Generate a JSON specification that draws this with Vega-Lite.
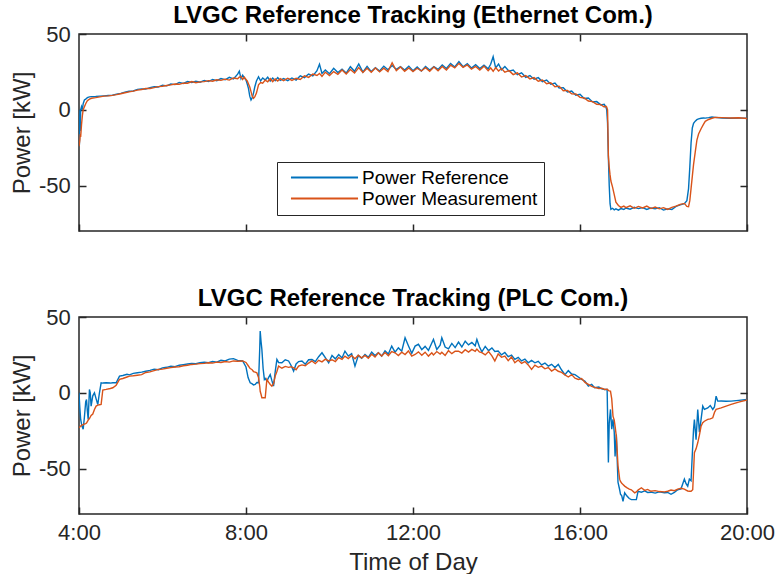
{
  "$schema": "https://vega.github.io/schema/vega-lite/v6.json",
  "background": "white",
  "padding": {"left": 9, "top": 3, "right": 0, "bottom": 0},
  "config": {
    "font": "Liberation Sans",
    "view": {"stroke": "#262626", "strokeWidth": 1.5},
    "axis": {"domain": false, "grid": false, "tickColor": "#262626", "tickWidth": 1.5, "tickSize": -7, "labelFont": "Liberation Sans", "labelFontSize": 22, "labelColor": "#262626", "titleFont": "Liberation Sans", "titleFontSize": 24, "titleFontWeight": "normal", "titleColor": "#262626", "labelFlush": false, "labelOverlap": false},
    "title": {"font": "Liberation Sans", "fontSize": 24, "fontWeight": "bold", "color": "#000000", "anchor": "middle", "offset": -5},
    "concat": {"spacing": 53}
  },
  "datasets": {
    "eth": [
      {"t":4.00,"ref":0,"meas":-24},{"t":4.01,"ref":-23,"meas":-22},{"t":4.02,"ref":-8,"meas":-20},{"t":4.03,"ref":-14,"meas":-16},{"t":4.04,"ref":0,"meas":-18},{"t":4.06,"ref":2,"meas":-10},{"t":4.08,"ref":0,"meas":-4},{"t":4.10,"ref":4,"meas":0},{"t":4.13,"ref":6.5,"meas":2},{"t":4.16,"ref":7,"meas":4},{"t":4.20,"ref":8,"meas":6},{"t":4.25,"ref":8.5,"meas":7},{"t":4.30,"ref":8.7,"meas":7.6},{"t":4.40,"ref":8.8,"meas":8},{"t":4.50,"ref":9,"meas":8.5},{"t":4.60,"ref":9.2,"meas":9},{"t":4.70,"ref":9.4,"meas":9.2},{"t":4.80,"ref":9.6,"meas":9.5},{"t":4.90,"ref":10.3,"meas":10},{"t":5.00,"ref":10.8,"meas":10.6},{"t":5.10,"ref":11.6,"meas":11.2},{"t":5.20,"ref":12.2,"meas":11.8},{"t":5.30,"ref":12.4,"meas":12.3},{"t":5.40,"ref":13.5,"meas":13},{"t":5.50,"ref":13.8,"meas":13.4},{"t":5.60,"ref":13.6,"meas":14},{"t":5.70,"ref":14.6,"meas":14},{"t":5.80,"ref":15.2,"meas":14.6},{"t":5.90,"ref":15,"meas":15.3},{"t":6.00,"ref":16.2,"meas":15.5},{"t":6.10,"ref":15.8,"meas":16},{"t":6.20,"ref":17,"meas":16.4},{"t":6.30,"ref":16.6,"meas":17},{"t":6.40,"ref":18,"meas":16.8},{"t":6.50,"ref":17.4,"meas":17.6},{"t":6.60,"ref":18.6,"meas":17.5},{"t":6.70,"ref":18,"meas":18.6},{"t":6.80,"ref":18.8,"meas":17.8},{"t":6.90,"ref":18.2,"meas":18.4},{"t":7.00,"ref":19.4,"meas":18.6},{"t":7.10,"ref":18.6,"meas":19.2},{"t":7.20,"ref":20,"meas":18.8},{"t":7.30,"ref":19.2,"meas":19.8},{"t":7.40,"ref":20.6,"meas":19.4},{"t":7.50,"ref":19.8,"meas":20.2},{"t":7.60,"ref":21.4,"meas":19.6},{"t":7.70,"ref":20.4,"meas":21},{"t":7.80,"ref":23.5,"meas":20.5},{"t":7.84,"ref":25.5,"meas":21.5},{"t":7.88,"ref":20.5,"meas":22},{"t":7.92,"ref":22.8,"meas":20},{"t":7.96,"ref":21,"meas":21.5},{"t":8.00,"ref":19.6,"meas":20},{"t":8.03,"ref":17,"meas":19},{"t":8.06,"ref":14,"meas":17},{"t":8.09,"ref":9,"meas":15},{"t":8.12,"ref":6.5,"meas":12},{"t":8.15,"ref":8,"meas":9},{"t":8.18,"ref":11,"meas":7.6},{"t":8.21,"ref":15,"meas":8.5},{"t":8.25,"ref":19,"meas":11},{"t":8.30,"ref":21.8,"meas":16.4},{"t":8.35,"ref":19,"meas":18},{"t":8.40,"ref":21,"meas":17.5},{"t":8.46,"ref":19.6,"meas":19.6},{"t":8.52,"ref":21.5,"meas":18.5},{"t":8.58,"ref":19,"meas":20.5},{"t":8.64,"ref":21,"meas":18.6},{"t":8.70,"ref":19.2,"meas":20.4},{"t":8.76,"ref":21.2,"meas":19},{"t":8.82,"ref":19.4,"meas":20.6},{"t":8.90,"ref":20.6,"meas":19.2},{"t":9.00,"ref":19.2,"meas":20.8},{"t":9.10,"ref":21,"meas":19.4},{"t":9.20,"ref":19.6,"meas":20.8},{"t":9.30,"ref":22.4,"meas":20},{"t":9.40,"ref":21.2,"meas":22.4},{"t":9.50,"ref":23.6,"meas":21.4},{"t":9.60,"ref":22.4,"meas":23.6},{"t":9.70,"ref":25.8,"meas":22.6},{"t":9.76,"ref":30,"meas":24},{"t":9.82,"ref":24,"meas":22},{"t":9.90,"ref":26.2,"meas":24.8},{"t":10.00,"ref":23.8,"meas":22.6},{"t":10.10,"ref":27.4,"meas":25.2},{"t":10.20,"ref":24.6,"meas":23.4},{"t":10.30,"ref":26.8,"meas":26.2},{"t":10.40,"ref":24.2,"meas":23.6},{"t":10.50,"ref":28.4,"meas":26.6},{"t":10.60,"ref":25.4,"meas":24.2},{"t":10.70,"ref":30.2,"meas":27.8},{"t":10.80,"ref":24.8,"meas":24.6},{"t":10.90,"ref":28.6,"meas":27.4},{"t":11.00,"ref":25.2,"meas":24.8},{"t":11.10,"ref":27.8,"meas":27.6},{"t":11.20,"ref":25.6,"meas":25},{"t":11.30,"ref":28.8,"meas":27.4},{"t":11.40,"ref":26.4,"meas":25.2},{"t":11.50,"ref":29.2,"meas":31},{"t":11.60,"ref":26.6,"meas":25.8},{"t":11.70,"ref":28.4,"meas":28.2},{"t":11.80,"ref":26.2,"meas":25.4},{"t":11.90,"ref":28.8,"meas":27.6},{"t":12.00,"ref":25.8,"meas":25.2},{"t":12.10,"ref":28.2,"meas":27.4},{"t":12.20,"ref":25.6,"meas":25.6},{"t":12.30,"ref":28.6,"meas":27.8},{"t":12.40,"ref":26.2,"meas":25.4},{"t":12.50,"ref":28.4,"meas":28.2},{"t":12.60,"ref":26.6,"meas":25.8},{"t":12.70,"ref":29.6,"meas":28.6},{"t":12.80,"ref":27.2,"meas":26.2},{"t":12.90,"ref":30.6,"meas":29.4},{"t":13.00,"ref":28.2,"meas":27.6},{"t":13.10,"ref":31.8,"meas":30.6},{"t":13.20,"ref":28.4,"meas":28},{"t":13.30,"ref":30.4,"meas":29.6},{"t":13.40,"ref":27.6,"meas":26.8},{"t":13.50,"ref":29.8,"meas":28.6},{"t":13.60,"ref":27.2,"meas":26.2},{"t":13.70,"ref":29.4,"meas":28.8},{"t":13.80,"ref":27,"meas":25.8},{"t":13.86,"ref":30,"meas":27.6},{"t":13.92,"ref":35,"meas":25.4},{"t":13.98,"ref":27.6,"meas":27.8},{"t":14.05,"ref":30.2,"meas":25.6},{"t":14.12,"ref":26.4,"meas":27.2},{"t":14.20,"ref":28.6,"meas":24.8},{"t":14.30,"ref":25.4,"meas":25.8},{"t":14.40,"ref":26.2,"meas":23.2},{"t":14.50,"ref":23.2,"meas":24.4},{"t":14.60,"ref":24.4,"meas":21.6},{"t":14.70,"ref":21.4,"meas":22.6},{"t":14.80,"ref":22.6,"meas":20.4},{"t":14.90,"ref":20.2,"meas":21.2},{"t":15.00,"ref":21.2,"meas":18.8},{"t":15.10,"ref":18.6,"meas":19.6},{"t":15.20,"ref":19.6,"meas":17.2},{"t":15.30,"ref":16.8,"meas":17.8},{"t":15.40,"ref":17.6,"meas":15.2},{"t":15.50,"ref":14.4,"meas":15.6},{"t":15.60,"ref":14.6,"meas":12.6},{"t":15.70,"ref":11.8,"meas":12.8},{"t":15.80,"ref":12.4,"meas":10.6},{"t":15.90,"ref":9.6,"meas":10.4},{"t":16.00,"ref":10.2,"meas":8.2},{"t":16.10,"ref":7.4,"meas":7.8},{"t":16.20,"ref":7.8,"meas":5.8},{"t":16.30,"ref":5.2,"meas":5.4},{"t":16.40,"ref":5.4,"meas":3.6},{"t":16.50,"ref":3.2,"meas":3.4},{"t":16.58,"ref":3.6,"meas":1.8},{"t":16.62,"ref":1.8,"meas":2.4},{"t":16.64,"ref":0,"meas":1.8},{"t":16.66,"ref":-8.7,"meas":0},{"t":16.68,"ref":-31.7,"meas":-30.6},{"t":16.70,"ref":-50,"meas":-38},{"t":16.72,"ref":-62,"meas":-43},{"t":16.74,"ref":-65.7,"meas":-47},{"t":16.78,"ref":-65,"meas":-51},{"t":16.82,"ref":-66,"meas":-56},{"t":16.86,"ref":-65.4,"meas":-61},{"t":16.92,"ref":-66.2,"meas":-63.2},{"t":16.98,"ref":-65.2,"meas":-64.4},{"t":17.05,"ref":-65.8,"meas":-63.6},{"t":17.10,"ref":-64.8,"meas":-64.6},{"t":17.20,"ref":-65.6,"meas":-63.4},{"t":17.30,"ref":-64.4,"meas":-65},{"t":17.40,"ref":-65.2,"meas":-63.8},{"t":17.50,"ref":-64.6,"meas":-64.8},{"t":17.60,"ref":-65.8,"meas":-63.6},{"t":17.70,"ref":-64.8,"meas":-65.2},{"t":17.80,"ref":-65.4,"meas":-64.2},{"t":17.90,"ref":-64.6,"meas":-65.4},{"t":18.00,"ref":-66.2,"meas":-64.6},{"t":18.10,"ref":-65.4,"meas":-65.8},{"t":18.20,"ref":-65.8,"meas":-64.4},{"t":18.30,"ref":-63.8,"meas":-63.6},{"t":18.40,"ref":-62.8,"meas":-62.4},{"t":18.50,"ref":-62,"meas":-61.8},{"t":18.56,"ref":-60,"meas":-63.8},{"t":18.60,"ref":-52,"meas":-64},{"t":18.63,"ref":-38,"meas":-60},{"t":18.66,"ref":-22,"meas":-52},{"t":18.69,"ref":-12,"meas":-44},{"t":18.72,"ref":-9,"meas":-36},{"t":18.76,"ref":-7.5,"meas":-28},{"t":18.80,"ref":-6.5,"meas":-20},{"t":18.84,"ref":-6,"meas":-16},{"t":18.90,"ref":-5.6,"meas":-12.5},{"t":18.96,"ref":-5.4,"meas":-9.5},{"t":19.00,"ref":-5.5,"meas":-7.6},{"t":19.08,"ref":-5.2,"meas":-6.4},{"t":19.16,"ref":-4.8,"meas":-5.6},{"t":19.24,"ref":-5,"meas":-5},{"t":19.40,"ref":-5.4,"meas":-5.2},{"t":19.60,"ref":-5.6,"meas":-5.4},{"t":19.80,"ref":-5.5,"meas":-5.3},{"t":20.00,"ref":-5.5,"meas":-5.8}
    ],
    "plc": [
      {"t":4.00,"ref":0,"meas":-23},{"t":4.02,"ref":-10,"meas":-22.6},{"t":4.04,"ref":-17.6,"meas":-22},{"t":4.07,"ref":-22,"meas":-21.4},{"t":4.10,"ref":-24,"meas":-21},{"t":4.13,"ref":-16,"meas":-20.6},{"t":4.16,"ref":-6,"meas":-20.4},{"t":4.18,"ref":-4.4,"meas":-20},{"t":4.20,"ref":-12,"meas":-19},{"t":4.22,"ref":-17.6,"meas":-18},{"t":4.25,"ref":2.2,"meas":-17},{"t":4.27,"ref":0,"meas":-16},{"t":4.29,"ref":-8.8,"meas":-15},{"t":4.33,"ref":-2,"meas":-14},{"t":4.37,"ref":0,"meas":-11},{"t":4.41,"ref":-4,"meas":-8.8},{"t":4.45,"ref":-7.7,"meas":-8.2},{"t":4.49,"ref":0,"meas":-7.9},{"t":4.53,"ref":6.6,"meas":-7.7},{"t":4.57,"ref":6.4,"meas":1.8},{"t":4.65,"ref":6.6,"meas":2.2},{"t":4.75,"ref":6.4,"meas":2.8},{"t":4.81,"ref":6.6,"meas":3.3},{"t":4.89,"ref":6.6,"meas":5},{"t":4.97,"ref":11,"meas":8.8},{"t":5.05,"ref":11.4,"meas":9.4},{"t":5.15,"ref":12.2,"meas":10.4},{"t":5.21,"ref":11.8,"meas":11},{"t":5.30,"ref":12.8,"meas":11.2},{"t":5.40,"ref":13.2,"meas":11.6},{"t":5.50,"ref":13.6,"meas":12},{"t":5.60,"ref":14.2,"meas":13.4},{"t":5.70,"ref":14.8,"meas":13.8},{"t":5.80,"ref":15.6,"meas":14.6},{"t":5.90,"ref":15.2,"meas":15.4},{"t":6.00,"ref":16.4,"meas":15.6},{"t":6.10,"ref":16.8,"meas":16.2},{"t":6.20,"ref":17.6,"meas":16.6},{"t":6.30,"ref":17.2,"meas":17},{"t":6.40,"ref":18.2,"meas":17.2},{"t":6.50,"ref":18.6,"meas":17.8},{"t":6.60,"ref":19,"meas":18.2},{"t":6.70,"ref":19.4,"meas":18.7},{"t":6.80,"ref":19.2,"meas":18.9},{"t":6.90,"ref":19.8,"meas":19.2},{"t":7.00,"ref":20.2,"meas":19.4},{"t":7.10,"ref":19.8,"meas":19.8},{"t":7.20,"ref":20.6,"meas":19.6},{"t":7.30,"ref":20.2,"meas":20.2},{"t":7.40,"ref":21.4,"meas":20},{"t":7.50,"ref":21,"meas":20.6},{"t":7.60,"ref":22.2,"meas":20.2},{"t":7.70,"ref":22.5,"meas":21},{"t":7.80,"ref":21.4,"meas":20.8},{"t":7.92,"ref":21,"meas":21},{"t":8.00,"ref":17,"meas":20},{"t":8.05,"ref":10,"meas":18},{"t":8.10,"ref":6.6,"meas":16},{"t":8.14,"ref":6,"meas":15.4},{"t":8.18,"ref":5.2,"meas":14},{"t":8.22,"ref":5.5,"meas":13.6},{"t":8.26,"ref":6.8,"meas":13.2},{"t":8.30,"ref":6.6,"meas":10},{"t":8.33,"ref":30,"meas":4},{"t":8.34,"ref":40.7,"meas":1},{"t":8.36,"ref":34,"meas":-1},{"t":8.38,"ref":28.6,"meas":-3.3},{"t":8.41,"ref":16,"meas":-3.3},{"t":8.44,"ref":8.8,"meas":-3.3},{"t":8.46,"ref":9.5,"meas":-3.3},{"t":8.50,"ref":7.7,"meas":8.8},{"t":8.54,"ref":10,"meas":7},{"t":8.58,"ref":12,"meas":5.5},{"t":8.62,"ref":8,"meas":4.4},{"t":8.66,"ref":4.4,"meas":6},{"t":8.70,"ref":14,"meas":11},{"t":8.74,"ref":22,"meas":14},{"t":8.78,"ref":20,"meas":17.6},{"t":8.86,"ref":19.8,"meas":16.2},{"t":8.94,"ref":21.8,"meas":17.4},{"t":9.02,"ref":21,"meas":16.8},{"t":9.08,"ref":18,"meas":17.2},{"t":9.14,"ref":14.3,"meas":16.5},{"t":9.20,"ref":19,"meas":15.2},{"t":9.26,"ref":20.6,"meas":17.6},{"t":9.34,"ref":21,"meas":18.4},{"t":9.42,"ref":18.8,"meas":17.8},{"t":9.50,"ref":21.8,"meas":19.6},{"t":9.58,"ref":22,"meas":21},{"t":9.66,"ref":20.6,"meas":19.2},{"t":9.74,"ref":23.8,"meas":21.4},{"t":9.82,"ref":26.4,"meas":20.4},{"t":9.90,"ref":23.2,"meas":22.2},{"t":9.98,"ref":19.8,"meas":21},{"t":10.06,"ref":24.6,"meas":21.8},{"t":10.14,"ref":22.4,"meas":20.6},{"t":10.22,"ref":25.2,"meas":23.2},{"t":10.30,"ref":23,"meas":22},{"t":10.37,"ref":27.5,"meas":24.2},{"t":10.45,"ref":24.2,"meas":22.6},{"t":10.53,"ref":25.8,"meas":24.6},{"t":10.61,"ref":17.6,"meas":22.4},{"t":10.69,"ref":24.6,"meas":24.8},{"t":10.77,"ref":22.8,"meas":23},{"t":10.85,"ref":25.3,"meas":24.6},{"t":10.93,"ref":23.4,"meas":22.8},{"t":11.01,"ref":26.8,"meas":25.4},{"t":11.09,"ref":24.6,"meas":23.6},{"t":11.17,"ref":26.4,"meas":26.4},{"t":11.25,"ref":24.2,"meas":24.2},{"t":11.33,"ref":27.6,"meas":26.6},{"t":11.41,"ref":25.6,"meas":24.4},{"t":11.49,"ref":30.8,"meas":27.2},{"t":11.57,"ref":26.8,"meas":26.4},{"t":11.65,"ref":29.6,"meas":24.6},{"t":11.73,"ref":27.4,"meas":26.8},{"t":11.81,"ref":36.3,"meas":25.2},{"t":11.89,"ref":31,"meas":27.6},{"t":11.97,"ref":26,"meas":24.2},{"t":12.05,"ref":30.8,"meas":25.3},{"t":12.13,"ref":32,"meas":27},{"t":12.21,"ref":28.4,"meas":24.8},{"t":12.29,"ref":30.6,"meas":26.8},{"t":12.37,"ref":28,"meas":24.2},{"t":12.45,"ref":32.8,"meas":26.4},{"t":12.49,"ref":35.2,"meas":25},{"t":12.57,"ref":28.6,"meas":27.2},{"t":12.65,"ref":31.4,"meas":25.6},{"t":12.69,"ref":36.3,"meas":26.8},{"t":12.77,"ref":30.2,"meas":24.6},{"t":12.85,"ref":29,"meas":27.8},{"t":12.93,"ref":32.6,"meas":25.8},{"t":13.01,"ref":29.8,"meas":27.4},{"t":13.09,"ref":33.4,"meas":27.5},{"t":13.17,"ref":30.2,"meas":26.2},{"t":13.25,"ref":34,"meas":28.4},{"t":13.33,"ref":31.6,"meas":26.8},{"t":13.41,"ref":33.2,"meas":28.6},{"t":13.49,"ref":31,"meas":27.4},{"t":13.53,"ref":35.2,"meas":28.8},{"t":13.59,"ref":30.4,"meas":27},{"t":13.65,"ref":27,"meas":26.5},{"t":13.73,"ref":30.6,"meas":25},{"t":13.81,"ref":27.8,"meas":27.2},{"t":13.89,"ref":29.6,"meas":24.4},{"t":13.96,"ref":27.2,"meas":21},{"t":14.04,"ref":27.5,"meas":25.6},{"t":14.12,"ref":25,"meas":23.4},{"t":14.20,"ref":26.6,"meas":24.2},{"t":14.28,"ref":23.8,"meas":21.2},{"t":14.36,"ref":24.8,"meas":23.6},{"t":14.44,"ref":22,"meas":19.8},{"t":14.52,"ref":23.4,"meas":21.6},{"t":14.60,"ref":21,"meas":19.4},{"t":14.68,"ref":22.2,"meas":20.6},{"t":14.76,"ref":19.8,"meas":18.4},{"t":14.84,"ref":21.4,"meas":15.4},{"t":14.92,"ref":19.8,"meas":18.2},{"t":15.00,"ref":20.8,"meas":16.8},{"t":15.08,"ref":18.4,"meas":17.6},{"t":15.16,"ref":19.6,"meas":15.8},{"t":15.24,"ref":17.6,"meas":16.6},{"t":15.32,"ref":18.8,"meas":14.3},{"t":15.40,"ref":16.6,"meas":15.8},{"t":15.48,"ref":18.7,"meas":14.2},{"t":15.56,"ref":15,"meas":13.4},{"t":15.64,"ref":12,"meas":11.8},{"t":15.72,"ref":14.6,"meas":10.4},{"t":15.80,"ref":12.4,"meas":12},{"t":15.88,"ref":12,"meas":9.6},{"t":15.96,"ref":10.4,"meas":8.8},{"t":16.04,"ref":8.8,"meas":9.4},{"t":16.12,"ref":7.6,"meas":6.8},{"t":16.20,"ref":4.4,"meas":5.5},{"t":16.28,"ref":5.6,"meas":4.2},{"t":16.35,"ref":3.3,"meas":3.6},{"t":16.45,"ref":3.8,"meas":2.8},{"t":16.52,"ref":2.6,"meas":3},{"t":16.59,"ref":2.2,"meas":2.2},{"t":16.65,"ref":2.2,"meas":2.4},{"t":16.68,"ref":-46,"meas":1.6},{"t":16.70,"ref":-20,"meas":1.2},{"t":16.73,"ref":-11,"meas":1.1},{"t":16.76,"ref":-24,"meas":-4},{"t":16.79,"ref":-17.6,"meas":-15.4},{"t":16.82,"ref":-26,"meas":-18},{"t":16.84,"ref":-42,"meas":-22},{"t":16.87,"ref":-27.5,"meas":-28.6},{"t":16.91,"ref":-59,"meas":-48},{"t":16.95,"ref":-64,"meas":-57},{"t":16.97,"ref":-67,"meas":-58.5},{"t":17.00,"ref":-68,"meas":-59.8},{"t":17.03,"ref":-71.6,"meas":-60.5},{"t":17.07,"ref":-66,"meas":-61.6},{"t":17.12,"ref":-68,"meas":-62.6},{"t":17.18,"ref":-69.8,"meas":-63.6},{"t":17.23,"ref":-70.5,"meas":-64},{"t":17.31,"ref":-70.5,"meas":-66},{"t":17.35,"ref":-70.5,"meas":-65.4},{"t":17.39,"ref":-65,"meas":-64.2},{"t":17.47,"ref":-65.6,"meas":-62.7},{"t":17.55,"ref":-64.8,"meas":-64.4},{"t":17.62,"ref":-65.8,"meas":-63.8},{"t":17.70,"ref":-65.6,"meas":-65},{"t":17.80,"ref":-66.2,"meas":-64.6},{"t":17.90,"ref":-65.4,"meas":-65.2},{"t":18.02,"ref":-66,"meas":-65.4},{"t":18.10,"ref":-65.8,"meas":-65},{"t":18.18,"ref":-67,"meas":-64.2},{"t":18.26,"ref":-65.8,"meas":-64.6},{"t":18.34,"ref":-64,"meas":-63.6},{"t":18.42,"ref":-63.4,"meas":-63},{"t":18.50,"ref":-57,"meas":-63.6},{"t":18.54,"ref":-60,"meas":-64.2},{"t":18.58,"ref":-61.7,"meas":-64.8},{"t":18.62,"ref":-57,"meas":-65},{"t":18.66,"ref":-58,"meas":-65},{"t":18.70,"ref":-35,"meas":-64},{"t":18.72,"ref":-24,"meas":-52},{"t":18.74,"ref":-17.6,"meas":-39.6},{"t":18.78,"ref":-31,"meas":-37},{"t":18.82,"ref":-11,"meas":-33},{"t":18.86,"ref":-26,"meas":-28},{"t":18.90,"ref":-17.6,"meas":-22},{"t":18.94,"ref":-8.8,"meas":-19.8},{"t":18.98,"ref":-11,"meas":-18.8},{"t":19.06,"ref":-10,"meas":-17.6},{"t":19.12,"ref":-8.4,"meas":-17.2},{"t":19.18,"ref":-11,"meas":-16.5},{"t":19.22,"ref":-9.4,"meas":-13},{"t":19.26,"ref":-2.2,"meas":-11},{"t":19.30,"ref":-5.5,"meas":-10.6},{"t":19.38,"ref":-5.4,"meas":-10},{"t":19.50,"ref":-5.6,"meas":-8.8},{"t":19.62,"ref":-5.5,"meas":-7.7},{"t":19.80,"ref":-5,"meas":-6.2},{"t":20.00,"ref":-4.4,"meas":-4.8}
    ]
  },
  "vconcat": [
    {
      "title": "LVGC Reference Tracking (Ethernet Com.)",
      "width": 668,
      "height": 197,
      "data": {"name": "eth"},
      "transform": [{"fold": ["ref", "meas"], "as": ["series", "p"]}],
      "layer": [
        {
          "mark": {"type": "line", "strokeWidth": 1.4, "clip": true},
          "encoding": {
            "x": {"field": "t", "type": "quantitative", "scale": {"domain": [4, 20], "nice": false, "zero": false}, "axis": {"values": [4, 8, 12, 16, 20], "labels": false, "title": null}},
            "y": {"field": "p", "type": "quantitative", "scale": {"domain": [-80, 50], "nice": false, "zero": false}, "axis": {"values": [-50, 0, 50], "labelExpr": "'' + datum.value", "title": "Power [kW]", "labelPadding": 15.7, "titlePadding": 4}},
            "color": {
              "field": "series", "type": "nominal",
              "scale": {"domain": ["ref", "meas"], "range": ["#0072BD", "#D95319"]},
              "legend": {"orient": "none", "legendX": 198, "legendY": 128, "title": null, "labelExpr": "datum.label == 'ref' ? 'Power Reference' : 'Power Measurement'", "symbolType": "M-5,0H5", "symbolSize": 180, "symbolOffset": 32, "symbolStrokeWidth": 2, "symbolFillColor": "transparent", "labelFontSize": 19, "labelColor": "#000000", "labelFont": "Liberation Sans", "labelLimit": 400, "strokeColor": "#262626", "fillColor": "white", "padding": 6, "rowPadding": 1, "labelOffset": 28}
            }
          }
        },
        {
          "mark": {"type": "line", "opacity": 0},
          "encoding": {
            "x": {"field": "t", "type": "quantitative", "scale": {"domain": [4, 20], "nice": false, "zero": false}, "axis": {"values": [8, 12, 16], "labels": false, "title": null}},
            "y": {"field": "p", "type": "quantitative", "scale": {"domain": [-80, 50], "nice": false, "zero": false}, "axis": {"values": [-50, 0], "labels": false, "title": null}}
          }
        }
      ],
      "resolve": {"axis": {"x": "independent", "y": "independent"}}
    },
    {
      "title": "LVGC Reference Tracking (PLC Com.)",
      "width": 668,
      "height": 197,
      "data": {"name": "plc"},
      "transform": [{"fold": ["ref", "meas"], "as": ["series", "p"]}],
      "layer": [
        {
          "mark": {"type": "line", "strokeWidth": 1.4, "clip": true},
          "encoding": {
            "x": {"field": "t", "type": "quantitative", "scale": {"domain": [4, 20], "nice": false, "zero": false}, "axis": {"values": [4, 8, 12, 16, 20], "labelExpr": "datum.value + ':00'", "title": "Time of Day", "labelPadding": 15, "titlePadding": 7}},
            "y": {"field": "p", "type": "quantitative", "scale": {"domain": [-80, 50], "nice": false, "zero": false}, "axis": {"values": [-50, 0, 50], "labelExpr": "'' + datum.value", "title": "Power [kW]", "labelPadding": 15.7, "titlePadding": 4}},
            "color": {"field": "series", "type": "nominal", "scale": {"domain": ["ref", "meas"], "range": ["#0072BD", "#D95319"]}, "legend": null}
          }
        },
        {
          "mark": {"type": "line", "opacity": 0},
          "encoding": {
            "x": {"field": "t", "type": "quantitative", "scale": {"domain": [4, 20], "nice": false, "zero": false}, "axis": {"values": [8, 12, 16], "labels": false, "title": null}},
            "y": {"field": "p", "type": "quantitative", "scale": {"domain": [-80, 50], "nice": false, "zero": false}, "axis": {"values": [-50, 0], "labels": false, "title": null}}
          }
        }
      ],
      "resolve": {"axis": {"x": "independent", "y": "independent"}}
    }
  ]
}
